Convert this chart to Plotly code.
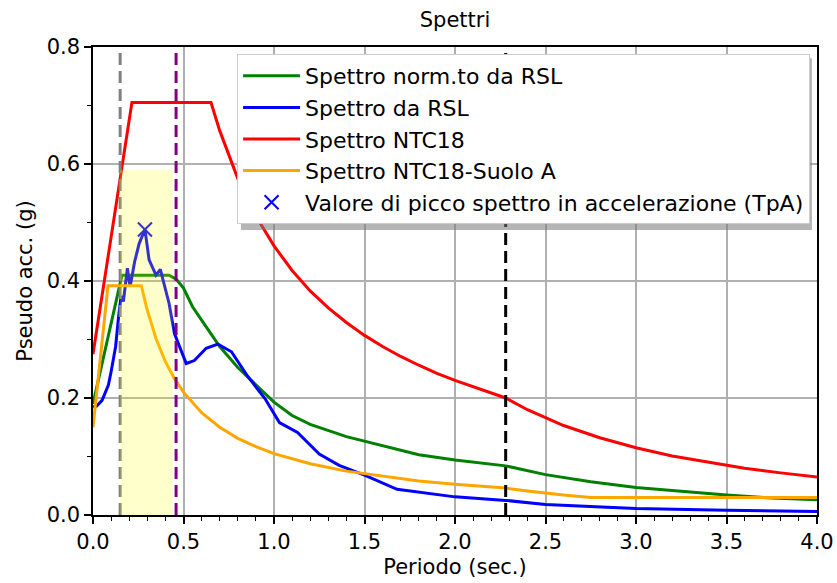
import plotly.graph_objects as go

# Spectral ordinates (period in s, pseudo-acceleration in g)
t_norm = [0.0, 0.16, 0.42, 0.46, 0.50, 0.55, 0.60, 0.70, 0.80, 0.90, 1.0, 1.1, 1.2, 1.4, 1.6,
          1.8, 2.0, 2.28, 2.5, 2.75, 3.0, 3.25, 3.5, 3.75, 4.0]
sa_norm = [0.19, 0.41, 0.41, 0.403, 0.388, 0.356, 0.333, 0.288, 0.252, 0.222, 0.193, 0.170, 0.155,
           0.134, 0.118, 0.103, 0.094, 0.084, 0.069, 0.057, 0.047, 0.040, 0.034, 0.029, 0.026]

t_rsl = [0.0, 0.02, 0.05, 0.085, 0.10, 0.125, 0.14, 0.155, 0.168, 0.19, 0.205, 0.23, 0.255, 0.287,
         0.31, 0.348, 0.372, 0.42, 0.45, 0.515, 0.56, 0.625, 0.69, 0.765, 0.85, 0.95, 1.03, 1.13,
         1.25, 1.36, 1.5, 1.68, 2.0, 2.28, 2.5, 3.0, 3.5, 4.0]
sa_rsl = [0.185, 0.186, 0.196, 0.222, 0.245, 0.288, 0.335, 0.374, 0.365, 0.422, 0.390, 0.433, 0.464,
          0.488, 0.436, 0.410, 0.420, 0.362, 0.310, 0.259, 0.264, 0.285, 0.292, 0.279, 0.239, 0.199,
          0.158, 0.141, 0.104, 0.085, 0.068, 0.044, 0.031, 0.025, 0.018, 0.011, 0.008, 0.006]

t_ntc = [0.0, 0.215, 0.652, 0.7, 0.8, 0.9, 1.0, 1.1, 1.2, 1.3, 1.4, 1.5, 1.6, 1.7, 1.8, 1.9, 2.0,
         2.1, 2.2, 2.28, 2.4, 2.5, 2.6, 2.8, 3.0, 3.2, 3.4, 3.6, 3.8, 4.0]
sa_ntc = [0.275, 0.705, 0.705, 0.657, 0.575, 0.511, 0.460, 0.418, 0.383, 0.354, 0.329, 0.307, 0.288,
          0.271, 0.256, 0.242, 0.230, 0.219, 0.209, 0.200, 0.180, 0.166, 0.153, 0.132, 0.115, 0.101,
          0.090, 0.080, 0.072, 0.065]

t_soil_a = [0.0, 0.083, 0.267, 0.30, 0.35, 0.40, 0.45, 0.50, 0.60, 0.70, 0.80, 0.90, 1.0, 1.2, 1.4,
            1.6, 1.8, 2.0, 2.2, 2.28, 2.4, 2.5, 2.6, 2.75, 3.0, 3.5, 4.0]
sa_soil_a = [0.15, 0.392, 0.392, 0.350, 0.300, 0.262, 0.233, 0.210, 0.175, 0.150, 0.131, 0.117, 0.105,
             0.0875, 0.075, 0.066, 0.058, 0.0525, 0.048, 0.046, 0.041, 0.037, 0.034, 0.030, 0.030,
             0.030, 0.030]

# Peak of the acceleration spectrum (TpA)
t_peak = [0.287]
sa_peak = [0.488]

# Reference periods (vertical markers) and highlighted band
t_gray = 0.15
t_purple = 0.459
t_black = 2.28
band_t = [0.15, 0.44]
band_top = 0.59

FONT = "DejaVu Sans"
LW = 3

fig = go.Figure()

fig.add_trace(go.Scatter(x=t_norm, y=sa_norm, mode="lines", name="Spettro norm.to da RSL",
                         line=dict(color="green", width=LW)))
fig.add_trace(go.Scatter(x=t_rsl, y=sa_rsl, mode="lines", name="Spettro da RSL",
                         line=dict(color="blue", width=LW)))
fig.add_trace(go.Scatter(x=t_ntc, y=sa_ntc, mode="lines", name="Spettro NTC18",
                         line=dict(color="red", width=LW)))
fig.add_trace(go.Scatter(x=t_soil_a, y=sa_soil_a, mode="lines", name="Spettro NTC18-Suolo A",
                         line=dict(color="orange", width=LW)))
fig.add_trace(go.Scatter(x=t_peak, y=sa_peak, mode="markers",
                         name="Valore di picco spettro in accelerazione (TpA)",
                         marker=dict(symbol="x-thin", size=14, line=dict(color="blue", width=2),
                                     color="blue")))

shapes = [
    # gray dashed line below the band
    dict(type="line", xref="x", yref="paper", x0=t_gray, x1=t_gray, y0=0, y1=1,
         line=dict(color="gray", width=LW, dash="12px,6px"), layer="above"),
    # highlighted band
    dict(type="rect", xref="x", yref="y", x0=band_t[0], x1=band_t[1], y0=0, y1=band_top,
         fillcolor="rgba(255,255,0,0.2)", line=dict(width=0), layer="above"),
    dict(type="line", xref="x", yref="paper", x0=t_purple, x1=t_purple, y0=0, y1=1,
         line=dict(color="purple", width=LW, dash="12px,6px"), layer="above"),
    dict(type="line", xref="x", yref="paper", x0=t_black, x1=t_black, y0=0, y1=1,
         line=dict(color="black", width=LW, dash="12px,6px"), layer="above"),
    # legend shadow
    dict(type="rect", xref="paper", yref="paper", x0=0.2044, x1=0.993, y0=0.609, y1=0.976,
         fillcolor="rgba(120,120,120,0.55)", line=dict(width=0), layer="above"),
]

axis_common = dict(
    showline=True, linecolor="black", linewidth=1.5, mirror=True,
    showgrid=True, gridcolor="#b0b0b0", gridwidth=1.5,
    ticks="outside", ticklen=7, tickwidth=1.5, tickcolor="black",
    tickfont=dict(family=FONT, size=21, color="black"),
    zeroline=False, automargin=False,
)

fig.update_layout(
    width=837, height=583,
    margin=dict(l=93, r=20, t=47, b=68),
    paper_bgcolor="white", plot_bgcolor="white",
    font=dict(family=FONT, size=21, color="black"),
    title=dict(text="Spettri", x=0.5, xref="paper", y=1 - 20 / 583, yref="container",
               xanchor="center", yanchor="middle", font=dict(family=FONT, size=21, color="black")),
    xaxis=dict(range=[0, 4], tick0=0, dtick=0.5, tickformat=".1f",
               minor=dict(ticks="outside", dtick=0.1, ticklen=4, tickwidth=1, tickcolor="black",
                          showgrid=False),
               title=dict(text="Periodo (sec.)", standoff=6,
                          font=dict(family=FONT, size=21, color="black")),
               **axis_common),
    yaxis=dict(range=[0, 0.8], tick0=0, dtick=0.2, tickformat=".1f",
               minor=dict(ticks="outside", dtick=0.1, ticklen=4, tickwidth=1, tickcolor="black",
                          showgrid=False),
               title=dict(text="Pseudo acc. (g)", standoff=8,
                          font=dict(family=FONT, size=21, color="black")),
               **axis_common),
    legend=dict(x=0.199, y=0.985, xanchor="left", yanchor="top",
                bgcolor="white", bordercolor="#cccccc", borderwidth=1,
                font=dict(family=FONT, size=22, color="black"),
                itemwidth=57),
    shapes=shapes,
    showlegend=True,
)

fig.write_html("out.html")
